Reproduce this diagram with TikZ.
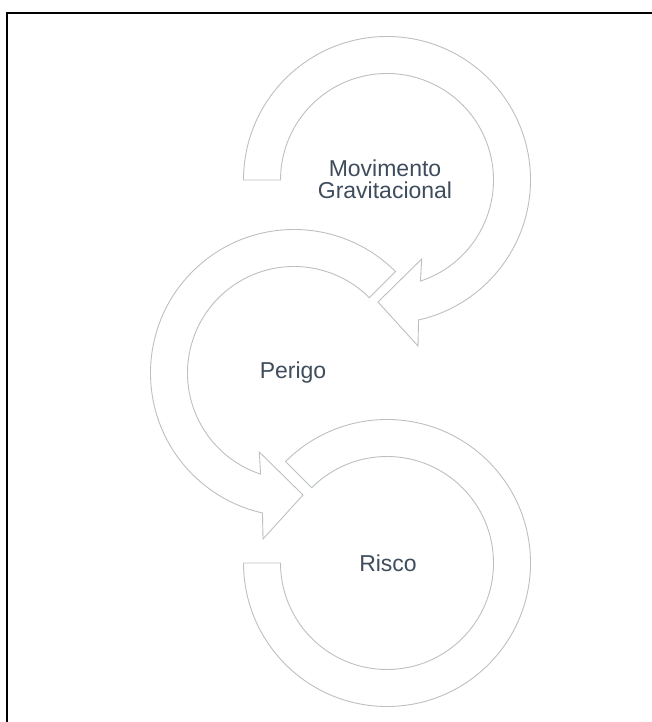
\documentclass[tikz,border=0pt]{standalone}
\usepackage{fontspec}
\setmainfont{Liberation Sans}
\usetikzlibrary{calc}
\definecolor{arcline}{RGB}{188,192,194}
\definecolor{textcol}{RGB}{62,76,92}
\begin{document}
\begin{tikzpicture}[x=1pt,y=1pt,
  arcshape/.style={draw=arcline, line width=0.9pt, fill=white, line join=miter},
  lbl/.style={text=textcol, inner sep=0pt, font=\fontsize{23}{22.5}\selectfont},
  frameline/.style={draw=black, line width=2pt}]
\useasboundingbox (0,0) rectangle (652,722);
\draw[frameline] (7,0) -- (7,709) -- (652,709);
% centres
\coordinate (c1) at (387,542);
\coordinate (c2) at (294,349);
\coordinate (c3) at (387,159);
% top arrow (clockwise)
\path[arcshape] ($(c1)+(180:143.5)$) arc[start angle=180, end angle=-77.3, radius=143.5]
  -- ($(c1)+(31,-166)$) -- ($(c1)+(-9,-122)$) -- ($(c1)+(34.7,-79)$)
  -- ($(c1)+(-71.7:106.5)$) arc[start angle=-71.7, end angle=180, radius=106.5] -- cycle;
% middle arrow (counter-clockwise)
\path[arcshape] ($(c2)+(45:143.5)$) arc[start angle=45, end angle=257.3, radius=143.5]
  -- ($(c2)+(-31,-166)$) -- ($(c2)+(9,-122)$) -- ($(c2)+(-34.7,-79)$)
  -- ($(c2)+(251.7:106.5)$) arc[start angle=251.7, end angle=45, radius=106.5] -- cycle;
% bottom arc (no head)
\path[arcshape] ($(c3)+(135:143.5)$) arc[start angle=135, end angle=-180, radius=143.5]
  -- ($(c3)+(180:106.5)$) arc[start angle=-180, end angle=135, radius=106.5] -- cycle;
% labels
\node[lbl, align=center, anchor=north] (mg) at (385,562.7) {Movimento\\Gravitacional};
\node[lbl, anchor=base] (pe) at (293,343) {Perigo};
\node[lbl, anchor=base] (ri) at (388,150) {Risco};
\end{tikzpicture}
\end{document}
